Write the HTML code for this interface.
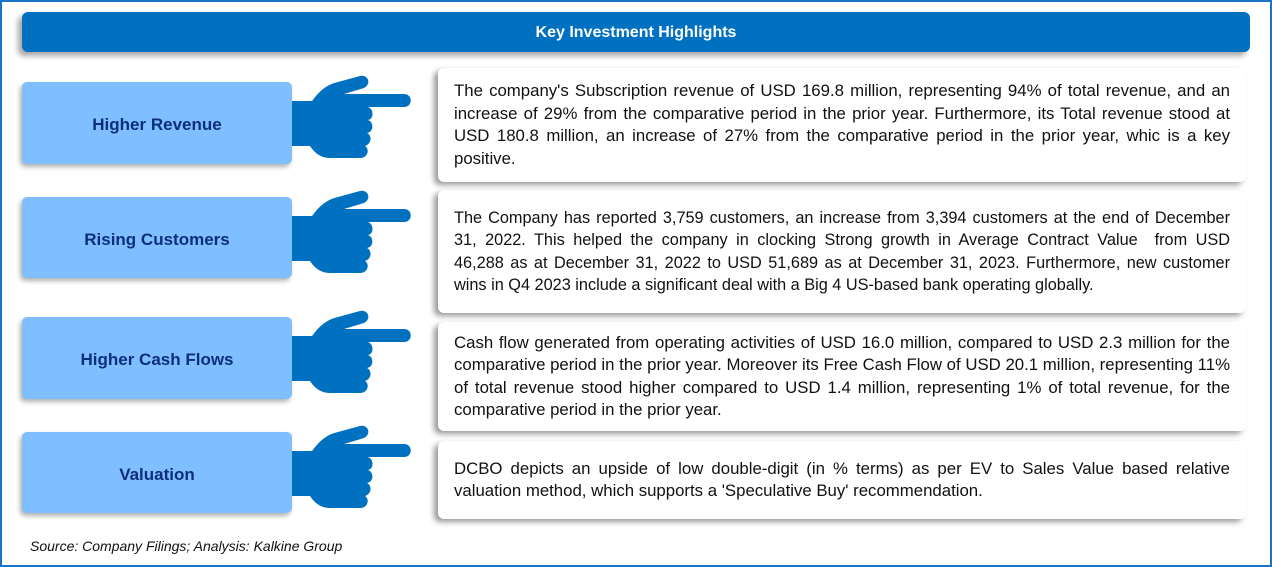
<!DOCTYPE html>
<html><head><meta charset="utf-8"><style>
body{margin:0;width:1272px;height:567px;background:#fff;position:relative;font-family:"Liberation Sans",sans-serif;overflow:hidden}
.frame{position:absolute;left:0;top:0;width:1268px;height:563px;border:2px solid #1a73c8}
.header{position:absolute;left:22px;top:12px;width:1228px;height:40px;background:#0070c0;border-radius:6px;box-shadow:-4px 4px 6px rgba(0,0,0,.35);color:#fff;font-weight:bold;font-size:16px;text-align:center;line-height:42px}
.lbl{position:absolute;left:22px;width:270px;background:#7fbfff;border-radius:5px;box-shadow:-2px 3px 5px rgba(0,0,0,.3);color:#0c2f7a;font-weight:bold;font-size:17px;display:flex;align-items:center;justify-content:center;padding-top:4px;box-sizing:border-box}
.txt{position:absolute;left:438px;width:776px;padding:0 16px;background:#fff;border-radius:6px;box-shadow:-4px 3px 6px rgba(0,0,0,.4);font-size:16.8px;line-height:22.5px;color:#111;text-align:justify;display:flex;align-items:center}
.ln{display:block;text-align:justify;text-align-last:justify;white-space:nowrap}
.ln.last{text-align-last:left}
.hand{position:absolute;left:290px;width:125px;height:95px}
.src{position:absolute;left:30px;top:538px;font-style:italic;font-size:14px;color:#111}
</style></head><body>
<div class="frame"></div>
<div class="header">Key Investment Highlights</div>

<div class="lbl" style="top:82px;height:82px">Higher Revenue</div>
<div class="lbl" style="top:197px;height:81px">Rising Customers</div>
<div class="lbl" style="top:317px;height:82px">Higher Cash Flows</div>
<div class="lbl" style="top:432px;height:81px">Valuation</div>

<svg class="hand" style="top:72px" viewBox="0 0 125 95"><use href="#h"/></svg>
<svg class="hand" style="top:187px" viewBox="0 0 125 95"><use href="#h"/></svg>
<svg class="hand" style="top:307px" viewBox="0 0 125 95"><use href="#h"/></svg>
<svg class="hand" style="top:422px" viewBox="0 0 125 95"><use href="#h"/></svg>
<svg width="0" height="0" style="position:absolute"><defs><g id="h" fill="#0070c0">
<path d="M2 29 L22 29 C30 18 38 12 48 10 L70 4 C78 2 82 12 74 16 L54 22 L114 22 C123 22 123 35 114 35 L78 35 C84 37 84 47 78 48 C84 50 84 60 77 61 C82 63 82 72 75 74 C80 77 78 86 70 86 L40 86 C30 86 24 80 20 74 L2 74 Z"/>
</g></defs></svg>

<div class="txt" style="top:68px;height:114px"><div>The company's Subscription revenue of USD 169.8 million, representing 94% of total revenue, and an increase of 29% from the comparative period in the prior year. Furthermore, its Total revenue stood at USD 180.8 million, an increase of 27% from the comparative period in the prior year, whic is a key positive.</div></div>
<div class="txt" style="top:190px;height:123px;font-size:16.3px"><div style="width:100%">
<span class="ln">The Company has reported 3,759 customers, an increase from 3,394 customers at the end of December</span>
<span class="ln">31, 2022. This helped the company in clocking Strong growth in Average Contract Value&nbsp; from USD</span>
<span class="ln">46,288 as at December 31, 2022 to USD 51,689 as at December 31, 2023. Furthermore, new customer</span>
<span class="ln last">wins in Q4 2023 include a significant deal with a Big 4 US-based bank operating globally.</span>
</div></div>
<div class="txt" style="top:322px;height:109px"><div>Cash flow generated from operating activities of USD 16.0 million, compared to USD 2.3 million for the comparative period in the prior year. Moreover its Free Cash Flow of USD 20.1 million, representing 11% of total revenue stood higher compared to USD 1.4 million, representing 1% of total revenue, for the comparative period in the prior year.</div></div>
<div class="txt" style="top:441px;height:78px"><div>DCBO depicts an upside of low double-digit (in % terms) as per EV to Sales Value based relative valuation method, which supports a 'Speculative Buy' recommendation.</div></div>

<div class="src">Source: Company Filings; Analysis: Kalkine Group</div>
</body></html>
